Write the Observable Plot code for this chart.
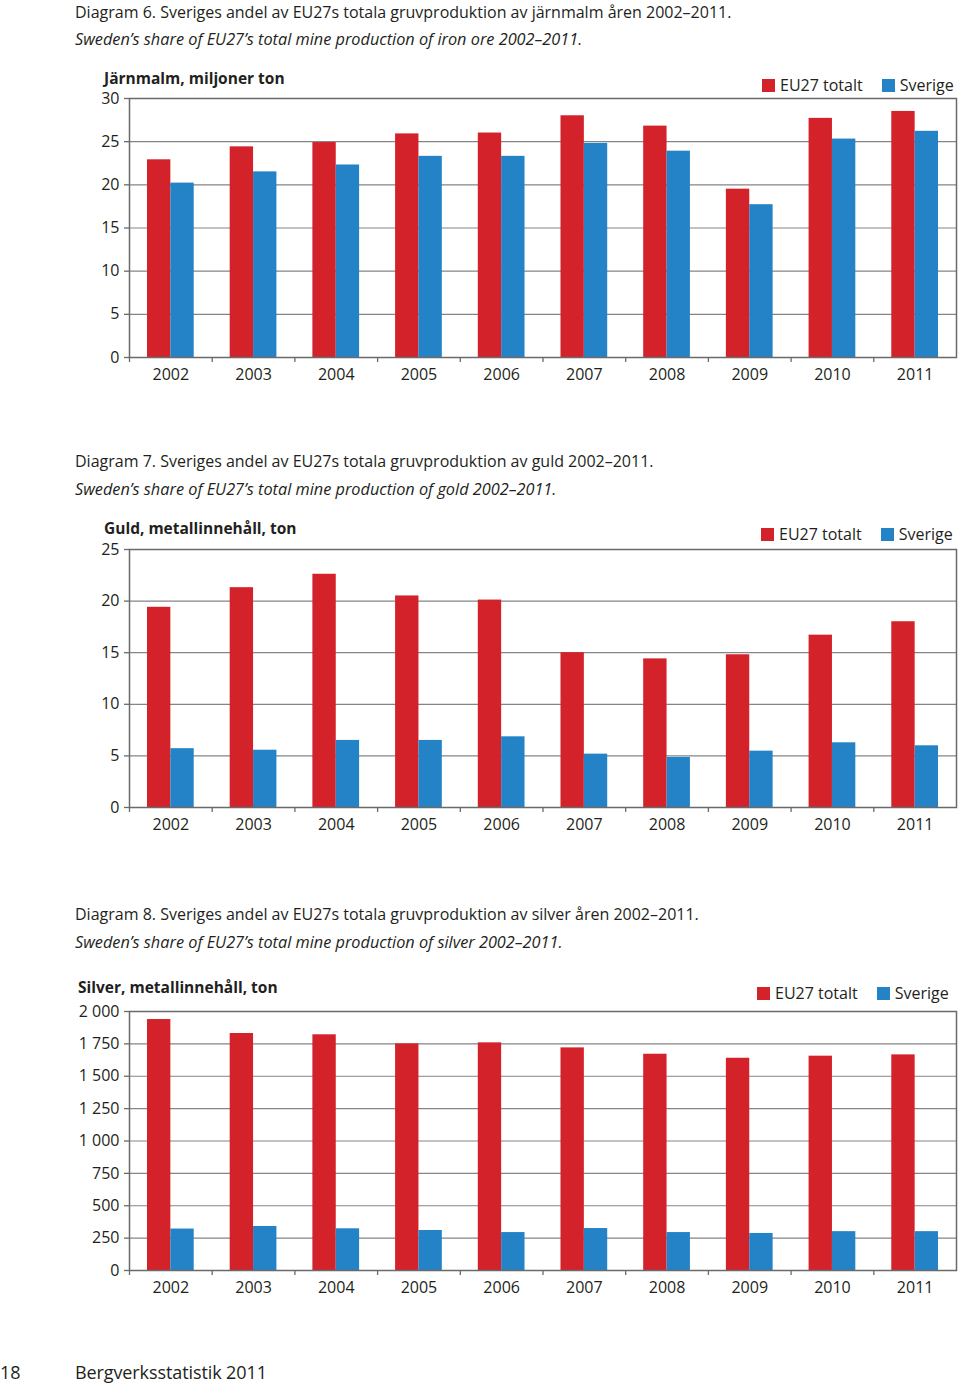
<!DOCTYPE html>
<html>
<head>
<meta charset="utf-8">
<script src="https://cdn.jsdelivr.net/npm/d3@7"></script>
<script src="https://cdn.jsdelivr.net/npm/@observablehq/plot@0.6"></script>
<style>
  html, body { margin: 0; padding: 0; background: #fff; }
  body { width: 960px; height: 1386px; position: relative; overflow: hidden;
         font-family: "Open Sans", "Noto Sans", sans-serif; color: #231f20; }
  .t { position: absolute; white-space: nowrap; font-size: 16px; line-height: 20px; letter-spacing: 0; }
  .it { font-style: italic; font-size: 16.3px; }
  .yt { font-weight: 700; font-size: 15.5px; }
  .legend { position: absolute; display: flex; align-items: center; font-size: 16px; line-height: 20px; white-space: nowrap; }
  .sw { width: 13px; height: 13px; display: inline-block; margin-right: 5px; }
  .gap { width: 19px; display: inline-block; }
  .chart { position: absolute; left: 0; }
  .foot { position: absolute; font-size: 18px; line-height: 24px; white-space: nowrap; letter-spacing: -0.1px; }
</style>
</head>
<body>
<div id="root"></div>
<script>
// ---- Data ----
const years = ["2002","2003","2004","2005","2006","2007","2008","2009","2010","2011"];
const seriesNames = ["EU27 totalt", "Sverige"];

// Järnmalm, miljoner ton
const ironEU = [22.9, 24.4, 24.9, 25.9, 26.0, 28.0, 26.8, 19.5, 27.7, 28.5];
const ironSE = [20.2, 21.5, 22.3, 23.3, 23.3, 24.8, 23.9, 17.7, 25.3, 26.2];
const ironTicks = [0, 5, 10, 15, 20, 25, 30];
const ironTickLabels = ["0", "5", "10", "15", "20", "25", "30"];

// Guld, metallinnehåll, ton
const goldEU = [19.4, 21.3, 22.6, 20.5, 20.1, 15.0, 14.4, 14.8, 16.7, 18.0];
const goldSE = [5.7, 5.55, 6.5, 6.5, 6.85, 5.17, 4.85, 5.46, 6.27, 5.98];
const goldTicks = [0, 5, 10, 15, 20, 25];
const goldTickLabels = ["0", "5", "10", "15", "20", "25"];

// Silver, metallinnehåll, ton
const silverEU = [1938, 1830, 1820, 1750, 1758, 1719, 1670, 1639, 1655, 1665];
const silverSE = [320, 340, 322, 309, 293, 324, 293, 286, 300, 300];
const silverTicks = [0, 250, 500, 750, 1000, 1250, 1500, 1750, 2000];
const silverTickLabels = ["0", "250", "500", "750", "1\u00a0000", "1\u00a0250", "1\u00a0500", "1\u00a0750", "2\u00a0000"];

// Texts
const charts = [
  {
    title: "Diagram 6. Sveriges andel av EU27s totala gruvproduktion av järnmalm åren 2002–2011.",
    subtitle: "Sweden’s share of EU27’s total mine production of iron ore 2002–2011.",
    ytitle: "Järnmalm, miljoner ton",
    eu: ironEU, se: ironSE, ticks: ironTicks, labels: ironTickLabels,
    titleTop: 2, subTop: 29, ytTop: 68, ytLeft: 104, legTop: 75, legLeft: 762,
    svgTop: 84, innerH: 259
  },
  {
    title: "Diagram 7. Sveriges andel av EU27s totala gruvproduktion av guld 2002–2011.",
    subtitle: "Sweden’s share of EU27’s total mine production of gold 2002–2011.",
    ytitle: "Guld, metallinnehåll, ton",
    eu: goldEU, se: goldSE, ticks: goldTicks, labels: goldTickLabels,
    titleTop: 451, subTop: 479, ytTop: 518, ytLeft: 104, legTop: 524, legLeft: 761,
    svgTop: 535, innerH: 258
  },
  {
    title: "Diagram 8. Sveriges andel av EU27s totala gruvproduktion av silver åren 2002–2011.",
    subtitle: "Sweden’s share of EU27’s total mine production of silver 2002–2011.",
    ytitle: "Silver, metallinnehåll, ton",
    eu: silverEU, se: silverSE, ticks: silverTicks, labels: silverTickLabels,
    titleTop: 904, subTop: 932, ytTop: 977, ytLeft: 78, legTop: 983, legLeft: 757,
    svgTop: 997, innerH: 259
  }
];

const RED = "#d3222a";
const BLUE = "#2483c7";
const GRID = "#858585";
const AXIS = "#6a6a6a";

const root = document.getElementById("root");
const marginLeft = 129, marginRight = 4, marginTop = 14, marginBottom = 38;
const bw = (960 - marginLeft - marginRight) / years.length;
const pad = bw * 0.2175, barW = bw * 0.2825;

function addText(cls, text, top, left) {
  const d = document.createElement("div");
  d.className = cls;
  d.textContent = text;
  d.style.top = top + "px";
  d.style.left = left + "px";
  root.appendChild(d);
  return d;
}

for (const c of charts) {
  addText("t", c.title, c.titleTop, 75);
  addText("t it", c.subtitle, c.subTop, 75);
  addText("t yt", c.ytitle, c.ytTop, c.ytLeft);

  const leg = document.createElement("div");
  leg.className = "legend";
  leg.style.top = c.legTop + "px";
  leg.style.left = c.legLeft + "px";
  leg.innerHTML = `<span class="sw" style="background:${RED}"></span><span>${seriesNames[0]}</span><span class="gap"></span><span class="sw" style="background:${BLUE}"></span><span>${seriesNames[1]}</span>`;
  root.appendChild(leg);

  const euData = years.map((y, i) => ({year: y, value: c.eu[i]}));
  const seData = years.map((y, i) => ({year: y, value: c.se[i]}));
  const labelMap = new Map(c.ticks.map((t, i) => [t, c.labels[i]]));

  const svg = Plot.plot({
    width: 960,
    height: marginTop + c.innerH + marginBottom,
    marginLeft, marginRight, marginTop, marginBottom,
    style: {fontFamily: '"Open Sans", "Noto Sans", sans-serif', fontSize: "16px", color: "#231f20", background: "transparent", overflow: "visible"},
    x: {type: "band", domain: years, padding: 0, round: false},
    y: {domain: [0, c.ticks[c.ticks.length - 1]]},
    marks: [
      Plot.gridY(c.ticks, {stroke: GRID, strokeOpacity: 1, strokeWidth: 1.2}),
      Plot.barY(euData, {x: "year", y: "value", fill: RED, insetLeft: pad, insetRight: bw - pad - barW}),
      Plot.barY(seData, {x: "year", y: "value", fill: BLUE, insetLeft: pad + barW, insetRight: pad}),
      Plot.frame({stroke: AXIS, strokeWidth: 1.5}),
      Plot.axisY(c.ticks, {tickSize: 5, tickPadding: 5, stroke: AXIS, strokeWidth: 1.3, tickFormat: d => labelMap.get(d), label: null}),
      Plot.axisX({tickSize: 0, tickPadding: 11, label: null}),
      Plot.axisX({tickSize: 5, tickFormat: () => "", dx: -bw / 2, stroke: AXIS, strokeWidth: 1.3, label: null})
    ]
  });
  svg.classList.add("chart");
  svg.style.top = c.svgTop + "px";
  root.appendChild(svg);
}

addText("foot", "18", 1360, 0);
addText("foot", "Bergverksstatistik 2011", 1360, 75);
</script>
</body>
</html>
